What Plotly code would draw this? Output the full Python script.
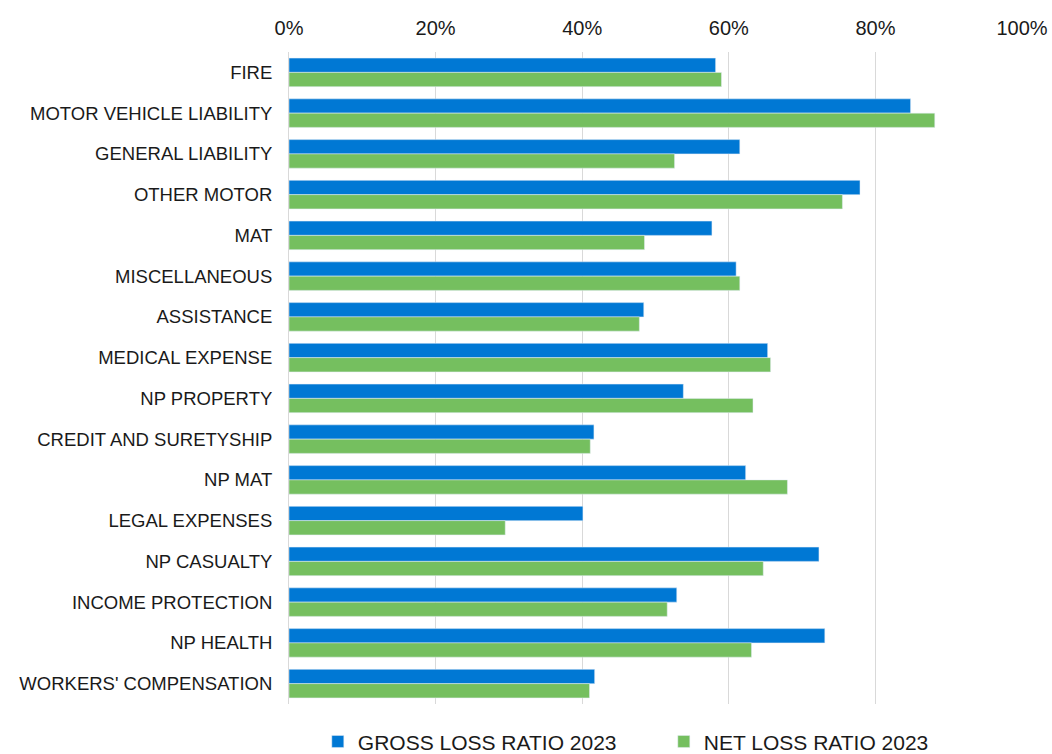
import plotly.graph_objects as go

categories = ["FIRE", "MOTOR VEHICLE LIABILITY", "GENERAL LIABILITY", "OTHER MOTOR", "MAT",
              "MISCELLANEOUS", "ASSISTANCE", "MEDICAL EXPENSE", "NP PROPERTY",
              "CREDIT AND SURETYSHIP", "NP MAT", "LEGAL EXPENSES", "NP CASUALTY",
              "INCOME PROTECTION", "NP HEALTH", "WORKERS' COMPENSATION"]
gross_2023 = [0.582, 0.848, 0.615, 0.779, 0.577, 0.610, 0.484, 0.653, 0.538,
              0.416, 0.623, 0.401, 0.723, 0.529, 0.731, 0.417]
net_2023 = [0.590, 0.881, 0.526, 0.755, 0.485, 0.615, 0.478, 0.657, 0.633,
            0.411, 0.680, 0.295, 0.647, 0.516, 0.631, 0.410]
series_names = ["GROSS LOSS RATIO 2023", "NET LOSS RATIO 2023"]
tick_vals = [0, 0.2, 0.4, 0.6, 0.8, 1.0]

fig = go.Figure()
fig.add_trace(go.Bar(y=categories, x=gross_2023, orientation="h", name=series_names[0],
                     marker=dict(color="#0078D4")))
fig.add_trace(go.Bar(y=categories, x=net_2023, orientation="h", name=series_names[1],
                     marker=dict(color="#75BF5F")))

fig.update_layout(
    width=1052, height=754,
    barmode="group", bargap=0.3, bargroupgap=0,
    plot_bgcolor="white", paper_bgcolor="white",
    font=dict(family="Liberation Sans, Arial, sans-serif", size=18, color="#1a1a1a"),
    margin=dict(l=289, r=30, t=52, b=50, autoexpand=False),
    xaxis=dict(side="top", range=[0, 1.0], tickvals=tick_vals, tickformat=".0%",
               showgrid=True, gridcolor="#d9d9d9", gridwidth=1, zeroline=False,
               showline=False, ticks="", automargin=False, ticklabelstandoff=12,
               tickangle=0, tickfont=dict(size=20, color="#1a1a1a")),
    yaxis=dict(autorange="reversed", showline=True, linecolor="#d9d9d9", linewidth=1,
               ticks="", automargin=False, ticklabelstandoff=12,
               tickfont=dict(size=18.5, color="#1a1a1a")),
    legend=dict(orientation="h", xref="container", x=0.631, xanchor="center",
                yref="paper", y=-0.058, yanchor="middle",
                font=dict(size=21, color="#1a1a1a"), entrywidth=301,
                traceorder="normal"),
    showlegend=True,
)

fig.write_html("out.html", config={"displayModeBar": False},
               post_script="document.body.style.margin='0px';")
